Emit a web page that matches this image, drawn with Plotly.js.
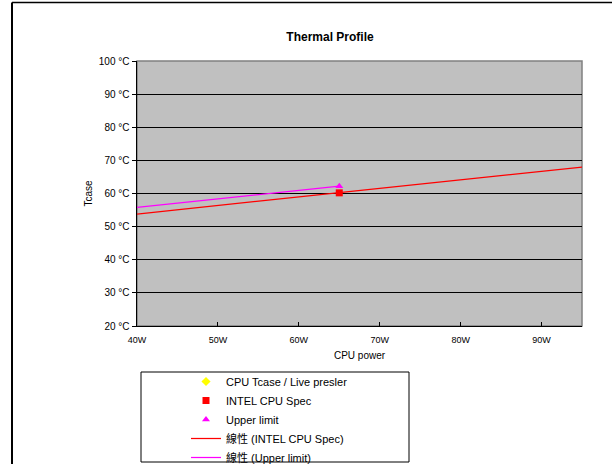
<!DOCTYPE html>
<html>
<head>
<meta charset="utf-8">
<script src="https://cdn.plot.ly/plotly-3.0.1.min.js"></script>
<style>
html,body{margin:0;padding:0;background:#fff;}
#chart{width:612px;height:464px;}
</style>
</head>
<body>
<div id="chart"></div>
<script>
// ---- data ----
var xTickVals = [40, 50, 60, 70, 80, 90];
var yTickVals = [20, 30, 40, 50, 60, 70, 80, 90, 100];

var liveX = [null];        // CPU Tcase / Live presler (no visible point)
var liveY = [null];

var specX = [65];          // INTEL CPU Spec
var specY = [60.2];

var upperX = [65];         // Upper limit
var upperY = [62.2];

var specTrendX = [40, 95]; // 線性 (INTEL CPU Spec)
var specTrendY = [53.8, 68.0];

var upperTrendX = [40, 65]; // 線性 (Upper limit)
var upperTrendY = [55.8, 62.2];

var FONT = 'Liberation Sans, Arial, Noto Sans CJK TC, sans-serif';

// plot area pixel geometry
var L = 137, R = 582, T = 61, B = 326, W = 612, H = 464;
function px(x){ return (x - L) / (R - L); }
function py(y){ return (B - y) / (B - T); }

var traces = [
  {x: liveX, y: liveY, name: 'CPU Tcase / Live presler', type: 'scatter', mode: 'markers',
   marker: {symbol: 'diamond', color: '#ffff00', size: 7}},
  {x: specX, y: specY, name: 'INTEL CPU Spec', type: 'scatter', mode: 'markers',
   marker: {symbol: 'square', color: '#ff0000', size: 7}},
  {x: upperX, y: upperY, name: 'Upper limit', type: 'scatter', mode: 'markers',
   marker: {symbol: 'triangle-up', color: '#ff00ff', size: 7}},
  {x: specTrendX, y: specTrendY, name: '線性 (INTEL CPU Spec)', type: 'scatter', mode: 'lines',
   line: {color: '#ff0000', width: 1.25}},
  {x: upperTrendX, y: upperTrendY, name: '線性 (Upper limit)', type: 'scatter', mode: 'lines',
   line: {color: '#ff00ff', width: 1.25}}
];

var layout = {
  width: W, height: H,
  margin: {l: L, r: W - R, t: T, b: H - B, pad: 0, autoexpand: false},
  paper_bgcolor: '#ffffff',
  plot_bgcolor: '#c0c0c0',
  font: {family: FONT, color: '#000000', size: 10},
  title: {text: '<b>Thermal Profile</b>', font: {family: FONT, size: 12, color: '#000'},
          x: 330 / W, xref: 'container', xanchor: 'center',
          y: 1 - 37 / H, yref: 'container', yanchor: 'middle'},
  xaxis: {
    range: [40, 95], tickvals: xTickVals, ticktext: xTickVals.map(function(v){return v + 'W';}),
    ticks: 'inside', ticklen: 4, tickcolor: '#000', tickwidth: 1,
    showgrid: false, zeroline: false,
    showline: true, linecolor: '#000', linewidth: 1,
    tickfont: {size: 9, family: FONT},
    ticklabelstandoff: 5,
    title: {text: 'CPU power', font: {size: 10, family: FONT}, standoff: 8},
    automargin: false, fixedrange: true
  },
  yaxis: {
    range: [20, 100], tickvals: yTickVals, ticktext: yTickVals.map(function(v){return v + ' °C';}),
    ticks: 'outside', ticklen: 4, tickcolor: '#000', tickwidth: 1,
    showgrid: true, gridcolor: '#000000', gridwidth: 1,
    zeroline: false,
    showline: true, linecolor: '#000', linewidth: 1.5,
    tickfont: {size: 10, family: FONT},
    title: {text: 'Tcase', font: {size: 10, family: FONT}, standoff: 4},
    automargin: false, fixedrange: true
  },
  showlegend: true,
  legend: {
    x: px(186), xanchor: 'left', y: py(367), yanchor: 'top',
    bgcolor: 'rgba(0,0,0,0)', borderwidth: 0,
    font: {size: 11, family: FONT, color: '#000'},
    traceorder: 'normal'
  },
  shapes: [
    // plot-area frame (gray top/right)
    {type: 'rect', xref: 'paper', yref: 'paper', x0: 0, x1: 1, y0: 0, y1: 1,
     line: {color: '#808080', width: 1.5}, layer: 'below'},
    // chart-area outer border (left & top)
    {type: 'line', xref: 'paper', yref: 'paper', x0: px(12), x1: px(12), y0: py(2.5), y1: py(470),
     line: {color: '#000', width: 2}},
    {type: 'line', xref: 'paper', yref: 'paper', x0: px(12), x1: px(620), y0: py(2.5), y1: py(2.5),
     line: {color: '#000', width: 1.5}},
    // legend box
    {type: 'rect', xref: 'paper', yref: 'paper', x0: px(141), x1: px(409), y0: py(372), y1: py(462),
     line: {color: '#000', width: 1}}
  ]
};

Plotly.newPlot('chart', traces, layout, {staticPlot: true, displayModeBar: false});
</script>
</body>
</html>
